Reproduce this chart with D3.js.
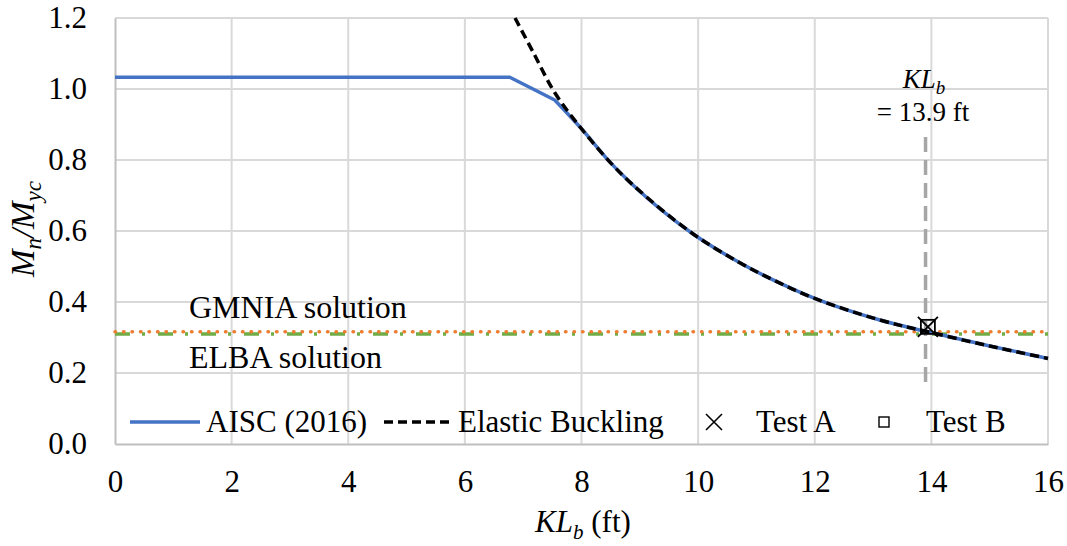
<!DOCTYPE html>
<html><head><meta charset="utf-8">
<script src="https://cdn.jsdelivr.net/npm/d3@7"></script>
<style>
body{margin:0;background:#fff}
svg{display:block}
text{font-family:"Liberation Serif","Times New Roman",serif;fill:#000}
</style>
</head><body>
<svg id="c" width="1067" height="546"></svg>
<script>
// ---- data ----
const xTicks = [0, 2, 4, 6, 8, 10, 12, 14, 16];
const yTicks = [0, 0.2, 0.4, 0.6, 0.8, 1.0, 1.2];
const aiscX = [0, 6.77, 7.54, 8.0, 8.5, 8.9, 9.86, 10.7, 11.34, 12.0, 13.1, 13.94, 15.0, 16.0];
const aiscY = [1.033, 1.033, 0.969, 0.888, 0.792, 0.727, 0.598, 0.512, 0.458, 0.410, 0.350, 0.316, 0.276, 0.241];
const elasticX = [6.86, 7.17, 7.54, 8.0, 8.5, 8.9, 9.86, 10.7, 11.34, 12.0, 13.1, 13.94, 15.0, 16.0];
const elasticY = [1.2, 1.104, 0.99, 0.888, 0.792, 0.727, 0.598, 0.512, 0.458, 0.410, 0.350, 0.316, 0.276, 0.241];
const gmniaX = [0, 16];
const gmniaY = [0.316, 0.316];
const elbaX = [0, 16];
const elbaY = [0.310, 0.310];
const testAX = [13.94], testAY = [0.330];
const testBX = [13.94], testBY = [0.330];
const klbX = [13.9, 13.9], klbY = [0.175, 0.885];
const legendLabels = ["AISC (2016)", "Elastic Buckling", "Test A", "Test B"];

// ---- layout ----
const svg = d3.select("#c");
const L = 115, R = 1048, T = 18, B = 444;
const x = d3.scaleLinear().domain([0, 16]).range([L, R]);
const y = d3.scaleLinear().domain([0, 1.2]).range([B, T]);
const zip = (xs, ys) => xs.map((v, i) => [v, ys[i]]);
const line = d3.line().x(d => x(d[0])).y(d => y(d[1]));
const smooth = d3.line().x(d => x(d[0])).y(d => y(d[1])).curve(d3.curveMonotoneX);

// grid
svg.append("g").selectAll("line").data(yTicks.filter(v => v > 0)).join("line")
  .attr("x1", L).attr("x2", R).attr("y1", d => y(d)).attr("y2", d => y(d))
  .attr("stroke", "#d9d9d9").attr("stroke-width", 2);
svg.append("g").selectAll("line").data(xTicks.filter(v => v > 0)).join("line")
  .attr("x1", d => x(d)).attr("x2", d => x(d)).attr("y1", T).attr("y2", B)
  .attr("stroke", "#d9d9d9").attr("stroke-width", 2);

// axes
const SERIF = '"Liberation Serif","Times New Roman",serif';
const ax = svg.append("g").attr("transform", `translate(0,${B})`)
  .call(d3.axisBottom(x).tickValues(xTicks).tickSize(0).tickPadding(26).tickFormat(d3.format("d")));
ax.attr("font-family", null).attr("font-size", null);
ax.select(".domain").attr("stroke", "#bfbfbf").attr("stroke-width", 2);
ax.selectAll("text").style("font-size", "31px").style("font-family", SERIF).attr("fill", "#000");
const ay = svg.append("g").attr("transform", `translate(${L},0)`)
  .call(d3.axisLeft(y).tickValues(yTicks).tickSize(0).tickPadding(28).tickFormat(d3.format(".1f")));
ay.attr("font-family", null).attr("font-size", null);
ay.select(".domain").attr("stroke", "#bfbfbf").attr("stroke-width", 2);
ay.selectAll("text").style("font-size", "31px").style("font-family", SERIF).attr("fill", "#000");

// KLb vertical dashed line
svg.append("path").datum(zip(klbX, klbY)).attr("d", line)
  .attr("fill", "none").attr("stroke", "#a6a6a6").attr("stroke-width", 3.5).attr("stroke-dasharray", "15,8");

// ELBA (green dash-dot)
svg.append("path").datum(zip(elbaX, elbaY)).attr("d", line)
  .attr("fill", "none").attr("stroke", "#70ad47").attr("stroke-width", 3.5).attr("stroke-dasharray", "15,12,3,13");
// GMNIA (orange dotted)
svg.append("path").datum(zip(gmniaX, gmniaY)).attr("d", line)
  .attr("fill", "none").attr("stroke", "#ed7d31").attr("stroke-width", 3.5)
  .attr("stroke-linecap", "round").attr("stroke-dasharray", "0.5,8");

// AISC
svg.append("path").datum(zip(aiscX, aiscY)).attr("d", d => {
    const lin = line(d.slice(0, 3));
    const cur = smooth(d.slice(2));
    return lin + "L" + cur.slice(1);
  })
  .attr("fill", "none").attr("stroke", "#4472c4").attr("stroke-width", 3.5).attr("stroke-linejoin", "round");
// Elastic buckling
svg.append("path").datum(zip(elasticX, elasticY)).attr("d", d3.line().x(d => x(d[0])).y(d => y(d[1])).curve(d3.curveCatmullRom))
  .attr("fill", "none").attr("stroke", "#000").attr("stroke-width", 3.5).attr("stroke-dasharray", "9,5");

// markers
function xMark(g, cx, cy, s, w) {
  g.append("path").attr("d", `M${cx - s},${cy - s}L${cx + s},${cy + s}M${cx - s},${cy + s}L${cx + s},${cy - s}`)
    .attr("stroke", "#000").attr("stroke-width", w).attr("fill", "none");
}
function sqMark(g, cx, cy, s, w) {
  g.append("rect").attr("x", cx - s).attr("y", cy - s).attr("width", 2 * s).attr("height", 2 * s)
    .attr("fill", "none").attr("stroke", "#000").attr("stroke-width", w);
}
const mk = svg.append("g");
testBX.forEach((v, i) => sqMark(mk, x(v), y(testBY[i]), 7, 1.8));
testAX.forEach((v, i) => xMark(mk, x(v), y(testAY[i]), 10, 1.8));

// legend
const lg = svg.append("g");
const ly = 422, lb = 432;
lg.append("line").attr("x1", 130).attr("x2", 200).attr("y1", ly).attr("y2", ly).attr("stroke", "#4472c4").attr("stroke-width", 3.5);
lg.append("text").attr("x", 206).attr("y", lb).style("font-size", "31px").text(legendLabels[0]);
lg.append("line").attr("x1", 384).attr("x2", 452).attr("y1", ly).attr("y2", ly).attr("stroke", "#000").attr("stroke-width", 3.5).attr("stroke-dasharray", "9,5");
lg.append("text").attr("x", 458).attr("y", lb).style("font-size", "31px").text(legendLabels[1]);
xMark(lg, 714, ly, 8, 1.6);
lg.append("text").attr("x", 756).attr("y", lb).style("font-size", "31px").text(legendLabels[2]);
sqMark(lg, 884, ly, 5, 1.4);
lg.append("text").attr("x", 926).attr("y", lb).style("font-size", "31px").text(legendLabels[3]);

// annotations
svg.append("text").attr("x", 189).attr("y", 318).style("font-size", "32px").text("GMNIA solution");
svg.append("text").attr("x", 189).attr("y", 368).style("font-size", "32px").text("ELBA solution");

const kl = svg.append("text").attr("x", 924).attr("y", 88).attr("text-anchor", "middle").style("font-size", "27px");
kl.append("tspan").style("font-style", "italic").text("KL");
kl.append("tspan").style("font-style", "italic").style("font-size", "19px").attr("dy", 6).text("b");
svg.append("text").attr("x", 923).attr("y", 121).attr("text-anchor", "middle").style("font-size", "27px").text("= 13.9 ft");

// axis titles
const xt = svg.append("text").attr("x", 583).attr("y", 532).attr("text-anchor", "middle").style("font-size", "31px");
xt.append("tspan").style("font-style", "italic").text("KL");
xt.append("tspan").style("font-style", "italic").style("font-size", "21px").attr("dy", 7).text("b");
xt.append("tspan").attr("dy", -7).text(" (ft)");

const yt = svg.append("text").attr("transform", "translate(34,229) rotate(-90)").attr("text-anchor", "middle").style("font-size", "33px");
yt.append("tspan").style("font-style", "italic").text("M");
yt.append("tspan").style("font-style", "italic").style("font-size", "23px").attr("dy", 7).text("n");
yt.append("tspan").style("font-style", "italic").attr("dy", -7).text("/M");
yt.append("tspan").style("font-style", "italic").style("font-size", "23px").attr("dy", 7).text("yc");
</script>
</body></html>
